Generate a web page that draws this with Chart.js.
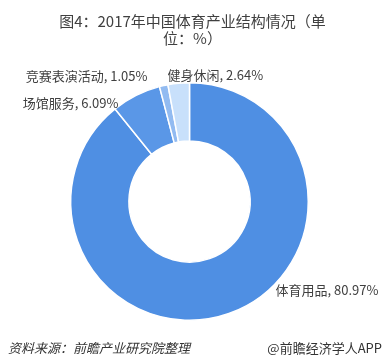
<!DOCTYPE html>
<html>
<head>
    <meta charset="UTF-8">
    <title>2017年中国体育产业结构情况</title>
    <style>
        html, body {
            margin: 0;
            padding: 0;
            background: #ffffff;
        }
        body {
            width: 385px;
            height: 364px;
            position: relative;
            overflow: hidden;
            font-family: "Noto Sans CJK SC", "Noto Sans", sans-serif;
            color: #404040;
        }
        #title {
            position: absolute;
            left: 0;
            top: 12px;
            width: 385px;
            text-align: center;
            font-size: 15px;
            line-height: 17px;
            color: #404040;
        }
        #chartWrap {
            position: absolute;
            left: 0;
            top: 0;
            width: 385px;
            height: 364px;
        }
        #source {
            position: absolute;
            left: 8px;
            top: 338px;
            font-size: 13px;
            font-style: italic;
            color: #333333;
        }
        #brand {
            position: absolute;
            right: 3px;
            top: 338px;
            font-size: 13px;
            color: #333333;
        }
    </style>
</head>
<body>
    <div id="chartWrap"><canvas id="pieChart"></canvas></div>
    <div id="title">图4：2017年中国体育产业结构情况（单<br>位：%）</div>
    <div id="source">资料来源：前瞻产业研究院整理</div>
    <div id="brand">@前瞻经济学人APP</div>

    <script src="https://cdn.jsdelivr.net/npm/chart.js"></script>
    <script>
        // data (clockwise from 12 o'clock)
        const categories = ['体育用品', '场馆服务', '竞赛表演活动', '健身休闲'];
        const shares = [80.97, 6.09, 1.05, 2.64];
        const sliceColors = ['#4f8fe3', '#5a97e7', '#92bbf1', '#c8e0fb'];

        // where each label sits relative to the pie centre, and which side it hangs from
        const labelSpots = [
            { dx: 86, dy: 89, align: 'left' },
            { dx: -71, dy: -98, align: 'right' },
            { dx: -42, dy: -125, align: 'right' },
            { dx: -22, dy: -126, align: 'left' }
        ];

        const outsideLabels = {
            id: 'outsideLabels',
            afterDatasetsDraw(chart) {
                const ctx = chart.ctx;
                const arcs = chart.getDatasetMeta(0).data;
                ctx.save();
                ctx.font = '13px "Noto Sans CJK SC", "Noto Sans", sans-serif';
                ctx.fillStyle = '#404040';
                ctx.textBaseline = 'middle';
                arcs.forEach((arc, i) => {
                    const spot = labelSpots[i];
                    const text = categories[i] + ', ' + shares[i].toFixed(2) + '%';
                    ctx.textAlign = spot.align;
                    ctx.fillText(text, arc.x + spot.dx, arc.y + spot.dy);
                });
                ctx.restore();
            }
        };

        const ctx = document.getElementById('pieChart').getContext('2d');
        const pieChart = new Chart(ctx, {
            type: 'doughnut',
            data: {
                labels: categories,
                datasets: [{
                    data: shares,
                    backgroundColor: sliceColors,
                    borderColor: '#ffffff',
                    borderWidth: 1.5,
                    hoverOffset: 0
                }]
            },
            options: {
                responsive: true,
                maintainAspectRatio: false,
                animation: false,
                cutout: '51%',
                layout: {
                    padding: { left: 70, right: 76, top: 81, bottom: 42 }
                },
                plugins: {
                    legend: { display: false },
                    tooltip: { enabled: false }
                }
            },
            plugins: [outsideLabels]
        });
    </script>
</body>
</html>
